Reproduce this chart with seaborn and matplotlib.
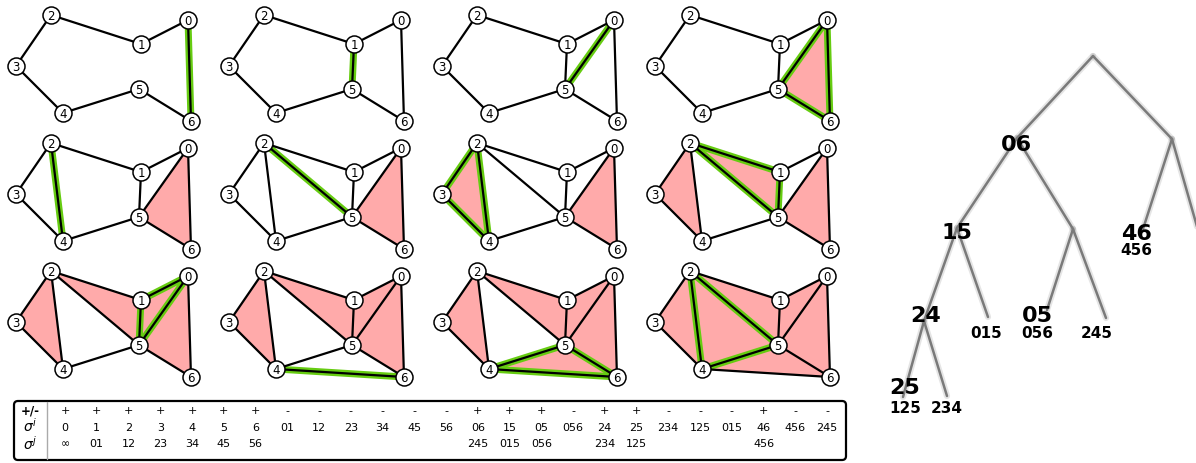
import numpy as np
import pandas as pd
import seaborn as sns
import matplotlib.pyplot as plt
from matplotlib.patches import Polygon, FancyBboxPatch

sns.set_theme(style="white")
plt.rcParams['font.family'] = ['DejaVu Sans']
plt.rcParams['text.color'] = 'black'

# filtration order, as listed in the table
signs = ['+', '+', '+', '+', '+', '+', '+', '-', '-', '-', '-', '-', '-',
         '+', '+', '+', '-', '+', '+', '-', '-', '-', '+', '-', '-']
sigma_i = ['0', '1', '2', '3', '4', '5', '6', '01', '12', '23', '34', '45', '56',
           '06', '15', '05', '056', '24', '25', '234', '125', '015', '46', '456', '245']
sigma_j = ['\u221e', '01', '12', '23', '34', '45', '56', '', '', '', '', '', '',
           '245', '015', '056', '', '234', '125', '', '', '', '456', '', '']

# simplex added (highlighted) in each small panel
panel_steps = ['06', '15', '05', '056', '24', '25', '234', '125', '015', '46', '456', '245']

# merge tree: big labels (pairs) and small labels under them
tree_big = ['06', '15', '24', '25', '05', '46']
tree_small = ['456', '015', '056', '245', '125', '234']

# --- layout -------------------------------------------------------------
node_xy = {0: (188, 21), 1: (141, 45), 2: (51, 16), 3: (16, 67),
           4: (63, 114), 5: (139, 90), 6: (191, 122)}
col_x = [0, 213, 426, 639]
row_y = [0, 128, 256]
pink = '#ffaaaa'
green = '#66cc11'

fig = plt.figure(figsize=(11.96, 4.64), dpi=100)
ax = fig.add_axes([0, 0, 1, 1])
ax.set_xlim(0, 1196)
ax.set_ylim(464, 0)
ax.axis('off')

node_rows = []
for k, step in enumerate(panel_steps):
    ox, oy = col_x[k % 4], row_y[k // 4]

    def P(v):
        x, y = node_xy[int(v)]
        return (ox + x, oy + y)

    upto = sigma_i.index(step)
    shown = [s for s in sigma_i[:upto + 1] if len(s) > 1]
    edges = set()
    for s in shown:
        if len(s) == 3:
            ax.add_patch(Polygon([P(c) for c in s], closed=True, fc=pink,
                                 ec='none', zorder=1))
            edges.update([s[0] + s[1], s[1] + s[2], s[0] + s[2]])
        else:
            edges.add(s)
    if len(step) == 2:
        hl = [step]
    else:
        hl = [step[0] + step[1], step[1] + step[2], step[0] + step[2]]
    for e in hl:
        (x0, y0), (x1, y1) = P(e[0]), P(e[1])
        ax.plot([x0, x1], [y0, y1], color=green, lw=5, solid_capstyle='round', zorder=2)
    for e in edges:
        (x0, y0), (x1, y1) = P(e[0]), P(e[1])
        ax.plot([x0, x1], [y0, y1], color='black', lw=1.6, zorder=3)
    for v in range(7):
        x, y = P(v)
        node_rows.append({'x': x, 'y': y, 'label': str(v)})

nodes = pd.DataFrame(node_rows)
sns.scatterplot(data=nodes, x='x', y='y', s=150, color='white', edgecolor='black',
                linewidth=1.1, zorder=4, ax=ax, legend=False)
for _, r in nodes.iterrows():
    ax.text(r.x, r.y + 0.5, r.label, ha='center', va='center', fontsize=8.5, zorder=5)

# --- table ----------------------------------------------------------------
ax.add_patch(FancyBboxPatch((14, 402), 832, 59, boxstyle='round,pad=0,rounding_size=4',
                            fc='none', ec='black', lw=1.6, zorder=2))
ax.plot([47, 47], [403, 460], color='#aaaaaa', lw=1)
ax.text(30, 411, '+/-', ha='center', va='center', fontsize=8.5, fontweight='bold')
ax.text(30, 426, r'$\sigma^i$', ha='center', va='center', fontsize=10)
ax.text(30, 444, r'$\sigma^j$', ha='center', va='center', fontsize=10)
for j in range(len(sigma_i)):
    x = 65 + 31.75 * j
    ax.text(x, 411, signs[j], ha='center', va='center', fontsize=8)
    ax.text(x, 428, sigma_i[j], ha='center', va='center', fontsize=8)
    ax.text(x, 444, sigma_j[j], ha='center', va='center', fontsize=8)

# --- merge tree -----------------------------------------------------------
tree_pts = {'R': (1093, 57), 'A': (1017, 139), 'B': (1172, 140), 'C': (1073, 230),
            'D': (957, 229), 'E': (1143, 230), 'F': (1202, 245), 'G': (924, 322),
            'H': (988, 318), 'I': (1047, 311), 'J': (1106, 319), 'K': (903, 398),
            'L': (947, 397)}
tree_edges = [('R', 'A'), ('R', 'B'), ('A', 'D'), ('A', 'C'), ('B', 'E'), ('B', 'F'),
              ('D', 'G'), ('D', 'H'), ('C', 'I'), ('C', 'J'), ('G', 'K'), ('G', 'L')]
for a, b in tree_edges:
    (x0, y0), (x1, y1) = tree_pts[a], tree_pts[b]
    ax.plot([x0, x1], [y0, y1], color='#999999', lw=4.5, alpha=0.25,
            solid_capstyle='round', zorder=1, clip_on=True)
    ax.plot([x0, x1], [y0, y1], color='#7a7a7a', lw=1.8, zorder=2, clip_on=True)

big_xy = [(1016, 145), (957, 233), (926, 316), (905, 388), (1037, 316), (1136, 234)]
small_xy = [(1136, 251), (986, 334), (1037, 334), (1097, 334), (905, 409), (947, 409)]
for t, (x, y) in zip(tree_big, big_xy):
    ax.text(x, y, t, ha='center', va='center', fontsize=16, fontweight='bold', zorder=3)
for t, (x, y) in zip(tree_small, small_xy):
    ax.text(x, y, t, ha='center', va='center', fontsize=11, fontweight='bold', zorder=3)

fig.savefig('out.png', dpi=100)
